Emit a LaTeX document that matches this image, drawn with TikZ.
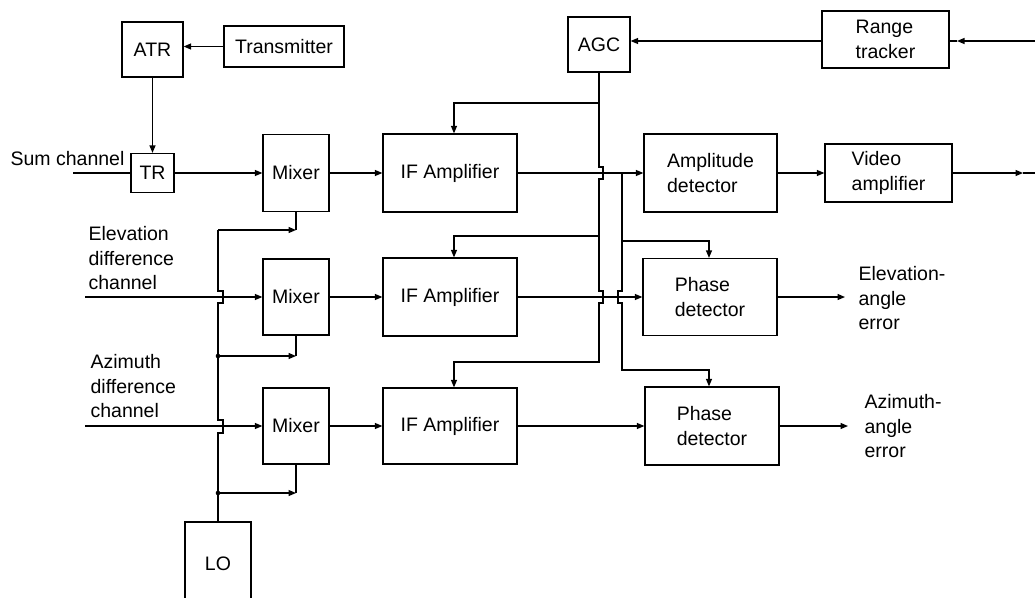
\documentclass[tikz,border=0pt]{standalone}
\usepackage{fontspec}
\setmainfont{Liberation Sans}
\usetikzlibrary{arrows.meta,calc}
\begin{document}
\begin{tikzpicture}[x=1pt,y=-1pt,
  line width=1.25pt,
  every node/.style={font=\fontsize{19.5}{24.5}\selectfont},
  box/.style={draw, rectangle, inner sep=0pt, align=left},
  lbl/.style={inner sep=0pt, align=left, anchor=north west},
  arr/.style={-{Triangle[length=7.5pt,width=6pt]}}]
\path[use as bounding box] (0,0) rectangle (1035,597);

% boxes
\node[box, minimum width=61pt, minimum height=55pt] (atr) at (152.5,49.5) {ATR};
\node[box, minimum width=120pt, minimum height=41pt] (tx) at (284,46.5) {Transmitter};
\node[box, minimum width=43pt, minimum height=39pt] (tr) at (152.5,173) {TR};
\node[box, minimum width=66pt, minimum height=77pt] (mx1) at (296,173) {Mixer};
\node[box, minimum width=66pt, minimum height=76pt] (mx2) at (296,297) {Mixer};
\node[box, minimum width=66pt, minimum height=76pt] (mx3) at (296,426) {Mixer};
\node[box, minimum width=134pt, minimum height=78pt] (if1) at (450,173) {IF Amplifier};
\node[box, minimum width=134pt, minimum height=78pt] (if2) at (450,297) {IF Amplifier};
\node[box, minimum width=134pt, minimum height=76pt] (if3) at (450,426) {IF Amplifier};
\node[box, minimum width=62pt, minimum height=55pt] (agc) at (599,44.5) {AGC};
\node[box, minimum width=127pt, minimum height=57pt] (rt) at (885.5,39.5) {Range\\tracker};
\node[box, minimum width=133pt, minimum height=78pt] (amp) at (710.5,173) {Amplitude\\detector};
\node[box, minimum width=127pt, minimum height=58pt] (va) at (888.5,173) {Video\\amplifier};
\node[box, minimum width=134pt, minimum height=77pt] (pd1) at (710,297) {Phase\\detector};
\node[box, minimum width=134pt, minimum height=78pt] (pd2) at (712,426) {Phase\\detector};
\node[box, minimum width=66pt, minimum height=83pt] (lo) at (218,563.5) {LO};

% labels
\node[inner sep=0pt, anchor=base west] (sumlbl) at (10,165) {Sum channel};
\node[lbl] (ellbl) at (88,226) {Elevation\\difference\\channel};
\node[lbl] (azlbl) at (90,354) {Azimuth\\difference\\channel};
\node[lbl] (eelbl) at (858,266) {Elevation-\\angle\\error};
\node[lbl] (aelbl) at (864,394) {Azimuth-\\angle\\error};

% transmitter / TR
\draw[arr] (tx.west) -- (tx.west -| atr.east);
\draw[arr] (atr.south) -- (tr.north);
\coordinate (sumin) at (73,173);
\draw (sumin) -- (tr.west);
\draw[arr] (tr.east) -- (mx1.west);

% inputs
\coordinate (elin) at (85,297);
\coordinate (azin) at (85,426);
\draw[arr] (elin) -- (mx2.west);
\draw[arr] (azin) -- (mx3.west);

% mixers to IF
\draw[arr] (mx1.east) -- (if1.west);
\draw[arr] (mx2.east) -- (if2.west);
\draw[arr] (mx3.east) -- (if3.west);

% LO distribution
\coordinate (l1) at (218,230);
\coordinate (l2) at (218,356);
\coordinate (l3) at (218,493);
\draw (lo.north) -- (218,433) -- ++(5,0) -- ++(0,-13) -- ++(-5,0)
      -- (218,303) -- ++(5,0) -- ++(0,-12) -- ++(-5,0) -- (l1);
\draw[arr] (l1) -- (mx1.south |- l1);
\draw (mx1.south |- l1) -- (mx1.south);
\draw[arr] (l2) -- (mx2.south |- l2);
\draw (mx2.south |- l2) -- (mx2.south);
\draw[arr] (l3) -- (mx3.south |- l3);
\draw (mx3.south |- l3) -- (mx3.south);
\fill (l2) circle (2.3);
\fill (l3) circle (2.3);

% AGC distribution
\coordinate (g1) at (454,103);
\coordinate (g2) at (454,236);
\coordinate (g3) at (454,362);
\draw[arr] (agc.south) -- (599,167) -- ++(4,0) -- ++(0,12) -- ++(-4,0)
      -- (599,291) -- ++(4,0) -- ++(0,12) -- ++(-4,0)
      -- (599,362) -- (g3) -- (g3 |- if3.north);
\draw[arr] (599,103) -- (g1) -- (g1 |- if1.north);
\draw[arr] (599,236) -- (g2) -- (g2 |- if2.north);

% IF outputs
\draw[arr] (if1.east) -- (amp.west);
\draw[arr] (if2.east) -- (pd1.west);
\draw[arr] (if3.east) -- (pd2.west);

% reference branch
\coordinate (b1) at (709,241);
\coordinate (b2) at (709,370);
\draw[arr] (622,173) -- (622,291) -- ++(-4,0) -- ++(0,12) -- ++(4,0)
      -- (622,370) -- (b2) -- (b2 |- pd2.north);
\draw[arr] (622,241) -- (b1) -- (b1 |- pd1.north);

% video chain
\draw[arr] (amp.east) -- (va.west);
\coordinate (vtip) at (1023,173);
\coordinate (vout) at (1035,173);
\draw[arr] (va.east) -- (vtip);
\draw (vtip) -- (vout);

% range tracker
\coordinate (rin) at (1035,41);
\coordinate (rtip) at (957,41);
\draw[arr] (rin) -- (rtip);
\draw (rtip) -- (rt.east |- rin);
\draw[arr] (rt.west |- rin) -- (agc.east |- rin);

% angle error outputs
\coordinate (eeout) at (845,297);
\coordinate (aeout) at (848,426);
\draw[arr] (pd1.east) -- (eeout);
\draw[arr] (pd2.east) -- (aeout);
\end{tikzpicture}
\end{document}
